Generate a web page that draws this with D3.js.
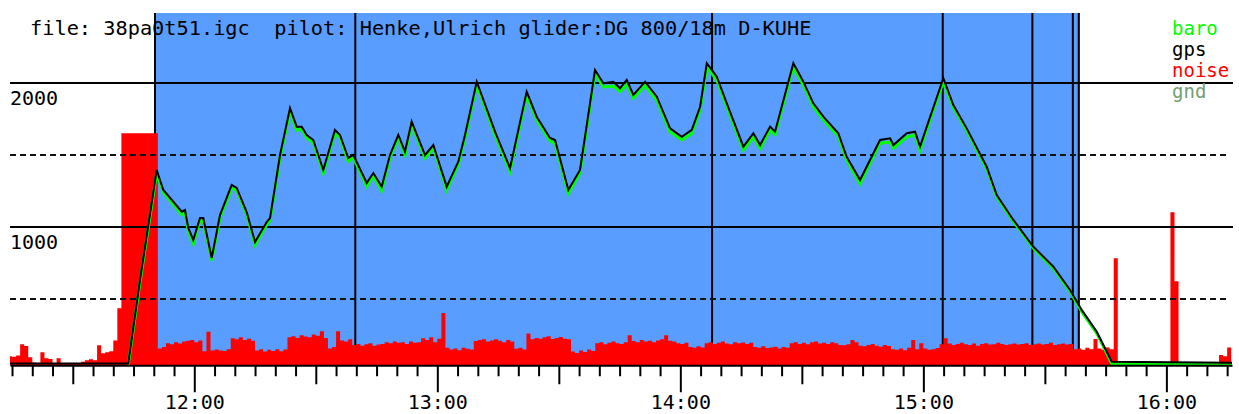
<!DOCTYPE html>
<html>
<head>
<meta charset="utf-8">
<script src="https://cdn.jsdelivr.net/npm/d3@7"></script>
<style>
  html, body { margin: 0; padding: 0; background: #fff; }
  svg { display: block; }
  text { font-family: "DejaVu Sans Mono", monospace; font-size: 20px; }
</style>
</head>
<body>
<div id="chart"></div>
<script>
// flight header
const title = "file: 38pa0t51.igc  pilot: Henke,Ulrich glider:DG 800/18m D-KUHE";

// fixes: time, gps altitude, baro altitude (m)
const fixTimes = [
  "11:14:30", "11:43:42", "11:46:36", "11:50:43", "11:52:21", "11:56:54", "11:57:42", "11:58:31",
  "11:59:45", "12:01:24", "12:02:13", "12:04:18", "12:06:21", "12:09:14", "12:10:28", "12:12:56",
  "12:15:00", "12:17:53", "12:18:42", "12:21:10", "12:23:38", "12:25:17", "12:26:31", "12:27:45",
  "12:29:23", "12:31:51", "12:34:44", "12:35:58", "12:38:01", "12:39:16", "12:42:34", "12:44:12",
  "12:46:16", "12:48:19", "12:50:22", "12:52:01", "12:53:40", "12:56:58", "12:59:01", "13:02:19",
  "13:05:11", "13:06:50", "13:09:44", "13:14:15", "13:17:57", "13:22:04", "13:24:32", "13:27:49",
  "13:29:04", "13:32:21", "13:35:14", "13:38:56", "13:41:00", "13:43:28", "13:45:07", "13:46:46",
  "13:48:24", "13:51:18", "13:54:11", "13:57:28", "14:00:21", "14:02:50", "14:04:53", "14:06:32",
  "14:09:00", "14:11:28", "14:15:34", "14:18:02", "14:19:41", "14:22:09", "14:23:23", "14:27:54",
  "14:30:22", "14:32:50", "14:35:18", "14:39:00", "14:41:04", "14:44:22", "14:49:18", "14:51:47",
  "14:52:36", "14:55:55", "14:57:57", "14:59:11", "15:00:51", "15:04:56", "15:07:24", "15:10:42",
  "15:15:38", "15:18:07", "15:22:13", "15:27:10", "15:32:06", "15:36:13", "15:39:06", "15:42:49",
  "15:46:31", "16:16:12"
];
const gpsAlt = [
  52, 52, 632, 1396, 1257, 1106, 1118, 993,
  910, 1062, 1062, 785, 1083, 1292, 1271, 1104,
  896, 1035, 1062, 1500, 1826, 1697, 1697, 1639,
  1604, 1396, 1674, 1639, 1479, 1500, 1306, 1375,
  1280, 1500, 1639, 1523, 1731, 1500, 1569, 1280,
  1453, 1639, 2009, 1662, 1408, 1940, 1766, 1618,
  1604, 1257, 1396, 2090, 1998, 2009, 1963, 2021,
  1917, 2009, 1905, 1685, 1627, 1674, 1835, 2137,
  2044, 1859, 1558, 1651, 1569, 1697, 1662, 2137,
  2009, 1859, 1766, 1651, 1488, 1326, 1604, 1616,
  1569, 1651, 1662, 1558, 1697, 2033, 1847, 1685,
  1419, 1222, 1049, 863, 724, 563, 424, 273,
  65, 58
];
const baroAlt = [
  null, 42, 615, 1375, 1240, 1085, 1095, 972,
  885, 1045, 1040, 768, 1062, 1270, 1255, 1085,
  875, 1015, 1045, 1482, 1800, 1672, 1680, 1618,
  1585, 1375, 1652, 1620, 1455, 1482, 1282, 1355,
  1255, 1480, 1618, 1500, 1710, 1478, 1548, 1258,
  1432, 1618, 1985, 1640, 1385, 1915, 1745, 1598,
  1578, 1232, 1375, 2065, 1972, 1978, 1940, 1990,
  1895, 1982, 1880, 1660, 1605, 1650, 1810, 2110,
  2020, 1835, 1535, 1625, 1545, 1672, 1640, 2110,
  1985, 1835, 1745, 1630, 1465, 1300, 1582, 1590,
  1548, 1625, 1640, 1532, 1675, 2010, 1830, 1670,
  1405, 1210, 1038, 852, 712, 552, 412, 262,
  50, 42
];

// ground elevation
const gndTimes = ["11:14:30", "16:16:12"];
const gndAlt = [45, 45];

// engine noise level, one value per minute from noiseStart
const noiseStart = "11:14:00";
const noise = [
  26, 24, 28, 60, 55, 23,
  8, 6, 37, 20, 18, 5, 20, 4, 3, 4, 3, 6, 10,
  14, 17, 14, 57,
  34, 37, 40, 71,
  163,
  663, 663, 663, 663, 663, 663, 663, 663, 663,
  48, 52,
  63, 60, 66, 62, 68,
  70, 72, 66, 71,
  40, 96, 42,
  45, 42, 41, 46,
  77, 74, 80, 72, 76, 70,
  42, 46, 39, 44, 41, 46, 40, 45,
  80, 83, 78, 86, 82, 80, 88, 84, 97, 78,
  48, 52,
  97,
  71, 68, 74,
  58, 61, 56, 60, 63, 56, 59, 61,
  66, 63, 68, 64, 66, 61, 68, 64, 66,
  77, 72, 80,
  66, 76,
  149,
  50,
  45, 48, 43, 50, 47, 45,
  69, 72, 74, 68, 71, 74, 70, 66, 72, 68,
  47, 50, 45,
  91,
  74, 78, 76, 80, 83, 75, 78, 81, 76, 74,
  39, 35, 42, 38, 45, 41,
  63, 66, 60, 64, 68, 63, 61, 66, 86,
  69, 66, 72, 68, 70, 66, 71, 74, 86, 70, 68,
  63, 61, 64,
  52, 50, 54, 51,
  63, 66, 61, 64, 68, 62, 60, 66, 63, 65, 61, 64,
  52, 50, 54, 49, 51, 53, 48, 52, 50,
  63, 66, 61, 64, 60, 66, 68, 62, 64, 61, 66, 63, 58,
  57, 60, 72, 66, 56, 54, 58, 61, 56, 53, 58, 55,
  46, 44, 48, 43, 50, 72, 46, 63, 48, 44, 46, 49,
  60, 77, 62, 58, 61, 64, 60, 58, 62, 56, 61, 63, 59, 60, 64, 61, 58,
  60, 62, 59, 61, 63, 58, 60, 62, 59, 61, 64, 58, 60, 62, 59, 61,
  46, 48, 44, 50, 46, 75, 48, 44, 51, 46,
  306,
  0, 0, 0, 0, 0, 0, 0, 0, 0, 0, 0, 0, 0,
  437, 240,
  0, 0, 0, 0, 0, 0, 0, 0, 0, 0,
  29, 26, 51,
  0
];

// task window and marker times
const taskSpan = ["11:50:18", "15:38:40"];
const markTimes = ["11:50:18", "12:39:45", "14:07:50", "15:04:47", "15:26:55", "15:36:54", "15:38:22"];

// altitude grid
const solidAlts = [1000, 2000];
const dashedAlts = [500, 1500];
const altLabels = ["1000", "2000"];

const legendNames = ["baro", "gps", "noise", "gnd"];

const width = 1239, height = 414;
const colors = { baro: "#00ff00", gps: "#000000", noise: "#ff0000", gnd: "#72a072", sky: "#589dff" };

const parse = d3.timeParse("%H:%M:%S");
const hm = d3.timeFormat("%H:%M");

const x = d3.scaleTime()
  .domain([parse("11:14:30"), parse("16:16:12")])
  .range([10, 1232]);

const y = d3.scaleLinear()
  .domain([0, 2500])
  .range([371, 11]);

const baseAlt = 40;
const baseY = y(baseAlt);
const topY = 13;

const yNoise = d3.scaleLinear()
  .domain([0, 1000])
  .range([baseY, baseY - 350]);

const svg = d3.select("#chart").append("svg")
  .attr("width", width)
  .attr("height", height);

svg.append("rect").attr("width", width).attr("height", height).attr("fill", "#fff");

svg.append("defs").append("clipPath").attr("id", "plot-clip")
  .append("rect")
  .attr("x", x.range()[0]).attr("y", 0)
  .attr("width", x.range()[1] - x.range()[0]).attr("height", baseY);

// task window background
svg.append("rect")
  .attr("x", x(parse(taskSpan[0])))
  .attr("y", topY)
  .attr("width", x(parse(taskSpan[1])) - x(parse(taskSpan[0])))
  .attr("height", baseY - topY)
  .attr("fill", colors.sky);

// marker lines
svg.append("g").selectAll("line")
  .data(markTimes)
  .join("line")
  .attr("x1", d => x(parse(d))).attr("x2", d => x(parse(d)))
  .attr("y1", topY).attr("y2", baseY)
  .attr("stroke", "#000").attr("stroke-width", 2);

// ground
const gndLine = d3.line()
  .x((d, i) => x(parse(gndTimes[i])))
  .y(d => y(d));
svg.append("path")
  .attr("d", gndLine(gndAlt))
  .attr("fill", "none").attr("stroke", colors.gnd).attr("stroke-width", 2);

// noise
const t0 = parse(noiseStart);
const noisePts = noise.map((v, i) => ({ t: d3.timeMinute.offset(t0, i), v }));
noisePts.push({ t: d3.timeMinute.offset(t0, noise.length), v: noise[noise.length - 1] });
const noiseArea = d3.area()
  .curve(d3.curveStepAfter)
  .x(d => x(d.t))
  .y0(baseY)
  .y1(d => yNoise(d.v));
svg.append("path")
  .attr("clip-path", "url(#plot-clip)")
  .attr("d", noiseArea(noisePts))
  .attr("fill", colors.noise);

// altitude grid
svg.append("g").selectAll("line")
  .data(solidAlts)
  .join("line")
  .attr("x1", 10).attr("x2", 1233)
  .attr("y1", d => y(d)).attr("y2", d => y(d))
  .attr("stroke", "#000").attr("stroke-width", 2);

svg.append("g").selectAll("line")
  .data(dashedAlts)
  .join("line")
  .attr("x1", 10).attr("x2", 1228)
  .attr("y1", d => y(d)).attr("y2", d => y(d))
  .attr("stroke", "#111").attr("stroke-width", 2)
  .attr("stroke-dasharray", "6,4");

svg.append("g").selectAll("text")
  .data(altLabels)
  .join("text")
  .attr("x", 10)
  .attr("y", d => y(+d) + 22)
  .attr("fill", "#000")
  .text(d => d);

// altitude traces
const fixLine = d3.line()
  .defined(d => d.a != null)
  .x(d => x(d.t))
  .y(d => y(d.a));

const baroPts = fixTimes.map((t, i) => ({ t: parse(t), a: baroAlt[i] }));
const gpsPts = fixTimes.map((t, i) => ({ t: parse(t), a: gpsAlt[i] }));

svg.append("path")
  .attr("d", fixLine(baroPts))
  .attr("fill", "none").attr("stroke", colors.baro).attr("stroke-width", 3);

svg.append("path")
  .attr("d", fixLine(gpsPts))
  .attr("fill", "none").attr("stroke", colors.gps).attr("stroke-width", 2);

// time axis
const xAxis = d3.axisBottom(x)
  .ticks(d3.timeMinute.every(5))
  .tickSize(11)
  .tickSizeOuter(0)
  .tickFormat(d => d.getMinutes() === 0 ? hm(d) : "");

const gx = svg.append("g")
  .attr("transform", `translate(0,${baseY})`)
  .call(xAxis)
  .attr("font-family", null)
  .attr("font-size", null);

gx.select(".domain").attr("stroke", "#000").attr("stroke-width", 2);
gx.selectAll(".tick line")
  .attr("stroke", "#000")
  .attr("stroke-width", 2)
  .attr("y2", d => d.getMinutes() === 0 ? 27 : d.getMinutes() === 30 ? 19 : 11);
gx.selectAll(".tick text")
  .attr("y", 409 - baseY)
  .attr("dy", 0)
  .attr("fill", "#000");

// header
svg.append("text")
  .attr("x", 30).attr("y", 35)
  .style("white-space", "pre")
  .style("font-size", "20.3px")
  .attr("fill", "#000")
  .text(title);

// legend
svg.append("g").selectAll("text")
  .data(legendNames)
  .join("text")
  .attr("x", 1172)
  .attr("y", (d, i) => 35 + i * 21)
  .style("font-size", "19px")
  .attr("fill", d => colors[d])
  .text(d => d);
</script>
</body>
</html>
